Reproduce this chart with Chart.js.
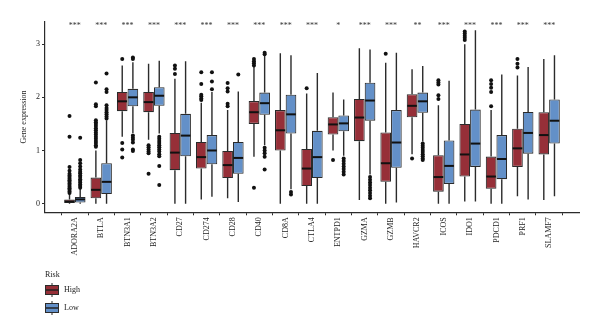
<!DOCTYPE html>
<html><head><meta charset="utf-8">
<script src="https://cdn.jsdelivr.net/npm/chart.js@4/dist/chart.umd.min.js"></script>
<style>html,body{margin:0;padding:0;background:#fff}#wrap{width:600px;height:335px;position:relative}</style>
</head><body><div id="wrap"><canvas id="c" width="600" height="335"></canvas></div>
<script>
const categories = ['ADORA2A','BTLA','BTN3A1','BTN3A2','CD27','CD274','CD28','CD40','CD8A','CTLA4','ENTPD1','GZMA','GZMB','HAVCR2','ICOS','IDO1','PDCD1','PRF1','SLAMF7'];
const significance = ['***','***','***','***','***','***','***','***','***','***','*','***','***','**','***','***','***','***','***'];
const yTicks = [0, 1, 2, 3];
const seriesNames = ['High', 'Low'];

const highLo  = [0, 0, 1.26, 1.20, 0, 0.08, 0.10, 0.88, 0, 0, 1.00, 0.07, 0, 0.93, 0, 0.04, 0, 0.14, 0.07];
const highQ1  = [0.01, 0.10, 1.74, 1.72, 0.63, 0.66, 0.48, 1.50, 1.00, 0.33, 1.30, 1.175, 0.41, 1.625, 0.225, 0.51, 0.28, 0.69, 0.925];
const highMed = [0.04, 0.26, 1.925, 1.91, 0.96, 0.875, 0.725, 1.72, 1.38, 0.66, 1.49, 1.62, 0.76, 1.84, 0.50, 0.925, 0.51, 1.04, 1.29];
const highQ3  = [0.08, 0.49, 2.10, 2.10, 1.33, 1.16, 0.99, 1.93, 1.76, 1.03, 1.625, 1.97, 1.34, 2.06, 0.91, 1.50, 0.885, 1.41, 1.72];
const highHi  = [0.18, 1.0, 2.6, 2.63, 2.35, 1.9, 1.76, 2.57, 2.83, 2.07, 2.09, 2.925, 2.65, 2.53, 1.85, 3.0, 1.76, 2.41, 2.72];
const highOut = [
  [0.2,0.23,0.26,0.29,0.32,0.35,0.38,0.41,0.44,0.47,0.5,0.53,0.56,0.62,0.69,1.26,1.65],
  [1.07,1.1,1.14,1.18,1.22,1.26,1.3,1.34,1.38,1.42,1.46,1.5,1.53,1.57,1.83,1.87,2.28],
  [2.72,1.14,1.02,0.87],
  [1.1,1.06,1.02,0.98,0.95,0.56],
  [2.44,2.54,2.6],
  [1.95,1.98,2.02,2.05,2.25,2.47],
  [1.83,1.88,2.11,2.17,2.27],
  [2.6,2.64,2.68,2.72,0.3],
  [],
  [2.17],
  [0.82],
  [],
  [2.82],
  [0.85],
  [1.97,2.04,2.24,2.28,2.32],
  [3.08,3.12,3.16,3.2,3.24],
  [1.83,2.1,2.18,2.25,2.32],
  [2.56,2.63,2.72],
  []
];

const lowLo  = [0, 0, 1.33, 1.32, 0, 0.13, 0.03, 1.1, 0.27, 0, 0.9, 0.55, 0.02, 1.17, 0, 0.04, 0, 0.08, 0.14];
const lowQ1  = [0.02, 0.18, 1.83, 1.84, 0.89, 0.74, 0.56, 1.67, 1.32, 0.48, 1.36, 1.56, 0.675, 1.71, 0.37, 0.69, 0.46, 0.94, 1.13];
const lowMed = [0.08, 0.41, 2.0, 2.03, 1.28, 1.0, 0.86, 1.89, 1.68, 0.875, 1.51, 1.94, 1.15, 1.925, 0.71, 1.13, 0.84, 1.33, 1.56];
const lowQ3  = [0.125, 0.76, 2.16, 2.19, 1.69, 1.29, 1.16, 2.09, 2.05, 1.37, 1.66, 2.275, 1.76, 2.09, 1.19, 1.77, 1.29, 1.725, 1.96];
const lowHi  = [0.28, 1.57, 2.66, 2.69, 2.68, 2.1, 2.11, 2.79, 2.79, 2.46, 1.96, 2.9, 2.84, 2.59, 2.31, 3.26, 2.43, 2.57, 2.79];
const lowOut = [
  [0.3,0.33,0.36,0.4,0.43,0.46,0.5,0.53,0.57,0.6,0.64,0.7,0.76,0.82,1.24],
  [1.6,1.64,1.68,1.72,1.76,1.8,1.85,2.1,2.15,2.45],
  [2.72,2.75,1.28,1.24,1.2,1.15,1.02,0.99],
  [1.26,1.22,1.18,1.14,1.1,1.06,1.02,0.98,0.93,0.89,0.71,0.35],
  [],
  [2.15,2.3,2.47],
  [2.43],
  [2.81,2.84,1.05,1.0,0.95,0.88,0.64],
  [0.22,0.17],
  [],
  [0.85,0.8,0.75,0.7,0.65,0.6,0.55],
  [0.5,0.45,0.4,0.35,0.3,0.25,0.2,0.15,0.1],
  [],
  [1.13,1.09,1.05,1.01,0.97,0.93,0.89,0.85,0.82],
  [],[],[],[],[]
];

const SIG_Y = 3.31;
const RED = '#962f38';
const BLUE = '#6390c8';
const EDGE = '#2b2b2b';
const FONT = "'Liberation Serif', 'DejaVu Serif', serif";

const stats = [
  {lo: highLo, q1: highQ1, med: highMed, q3: highQ3, hi: highHi, out: highOut},
  {lo: lowLo, q1: lowQ1, med: lowMed, q3: lowQ3, hi: lowHi, out: lowOut}
];
const colors = [RED, BLUE];

const boxPlugin = {
  id: 'boxplot',
  beforeDatasetsDraw(chart) {
    const ctx = chart.ctx, y = chart.scales.y;
    ctx.save();
    ctx.strokeStyle = EDGE; ctx.lineWidth = 1.4;
    stats.forEach((s, d) => {
      chart.getDatasetMeta(d).data.forEach((el, i) => {
        ctx.beginPath();
        ctx.moveTo(el.x, y.getPixelForValue(s.lo[i]));
        ctx.lineTo(el.x, y.getPixelForValue(s.q1[i]));
        ctx.moveTo(el.x, y.getPixelForValue(s.q3[i]));
        ctx.lineTo(el.x, y.getPixelForValue(s.hi[i]));
        ctx.stroke();
      });
    });
    ctx.restore();
  },
  afterDatasetsDraw(chart) {
    const ctx = chart.ctx, y = chart.scales.y, x = chart.scales.x;
    ctx.save();
    stats.forEach((s, d) => {
      chart.getDatasetMeta(d).data.forEach((el, i) => {
        const w = el.width;
        const my = y.getPixelForValue(s.med[i]);
        ctx.strokeStyle = '#111'; ctx.lineWidth = 2;
        ctx.beginPath(); ctx.moveTo(el.x - w / 2 + 0.5, my); ctx.lineTo(el.x + w / 2 - 0.5, my); ctx.stroke();
        ctx.fillStyle = '#111';
        s.out[i].forEach(v => {
          ctx.beginPath(); ctx.arc(el.x, y.getPixelForValue(v), 2, 0, Math.PI * 2); ctx.fill();
        });
      });
    });
    ctx.fillStyle = '#333'; ctx.font = '8px ' + FONT;
    ctx.textAlign = 'center'; ctx.textBaseline = 'alphabetic';
    significance.forEach((t, i) => {
      ctx.fillText(t, x.getPixelForValue(i), y.getPixelForValue(SIG_Y));
    });
    ctx.restore();
  },
  afterDraw(chart) {
    const ctx = chart.ctx;
    ctx.save();
    ctx.fillStyle = '#1a1a1a'; ctx.font = '8px ' + FONT;
    ctx.textAlign = 'left'; ctx.textBaseline = 'middle';
    ctx.fillText('Risk', 45, 275);
    seriesNames.forEach((name, k) => {
      const top = 285 + k * 18, cx = 52;
      ctx.strokeStyle = EDGE; ctx.lineWidth = 1;
      ctx.beginPath(); ctx.moveTo(cx, top - 2); ctx.lineTo(cx, top); ctx.moveTo(cx, top + 10); ctx.lineTo(cx, top + 12); ctx.stroke();
      ctx.fillStyle = colors[k];
      ctx.fillRect(45, top, 14, 10);
      ctx.strokeRect(45.5, top + 0.5, 13, 9);
      ctx.strokeStyle = '#222'; ctx.lineWidth = 1.5;
      ctx.beginPath(); ctx.moveTo(46, top + 5); ctx.lineTo(58, top + 5); ctx.stroke();
      ctx.fillStyle = '#1a1a1a';
      ctx.fillText(name, 64, top + 5);
    });
    ctx.restore();
  }
};

const axisFont = {family: FONT, size: 8};
new Chart(document.getElementById('c'), {
  type: 'bar',
  data: {
    datasets: seriesNames.map((name, d) => ({
      label: name,
      data: categories.map((c, i) => ({x: i, y: [stats[d].q1[i], stats[d].q3[i]]})),
      backgroundColor: colors[d],
      borderColor: EDGE,
      borderWidth: 1.1,
      borderSkipped: false,
      categoryPercentage: 0.81,
      barPercentage: 1
    }))
  },
  options: {
    responsive: false,
    animation: false,
    events: [],
    layout: {padding: {left: 0, right: 21, top: 21.7, bottom: 0}},
    plugins: {legend: {display: false}, tooltip: {enabled: false}},
    scales: {
      x: {
        type: 'linear', min: -0.6, max: 18.6,
        afterBuildTicks: s => { s.ticks = categories.map((c, i) => ({value: i})); },
        afterFit: s => { s.height = 335 - 212.3; },
        ticks: {autoSkip: false, minRotation: 90, maxRotation: 90, padding: 2, color: '#222', font: axisFont,
          callback: v => categories[v]},
        grid: {display: true, drawOnChartArea: false, drawTicks: true, tickLength: 3, color: EDGE, tickColor: EDGE},
        border: {display: true, color: EDGE, width: 1.2}
      },
      y: {
        min: -0.163, max: 3.423,
        afterBuildTicks: s => { s.ticks = yTicks.map(v => ({value: v})); },
        afterFit: s => { s.width = 45; },
        ticks: {padding: 2, color: '#222', font: axisFont},
        grid: {display: true, drawOnChartArea: false, drawTicks: true, tickLength: 3, color: EDGE, tickColor: EDGE},
        border: {display: true, color: EDGE, width: 1.2},
        title: {display: true, text: 'Gene expression', color: '#222', font: axisFont, padding: {top: 19, bottom: 0}}
      }
    }
  },
  plugins: [boxPlugin]
});
</script>
</body></html>
